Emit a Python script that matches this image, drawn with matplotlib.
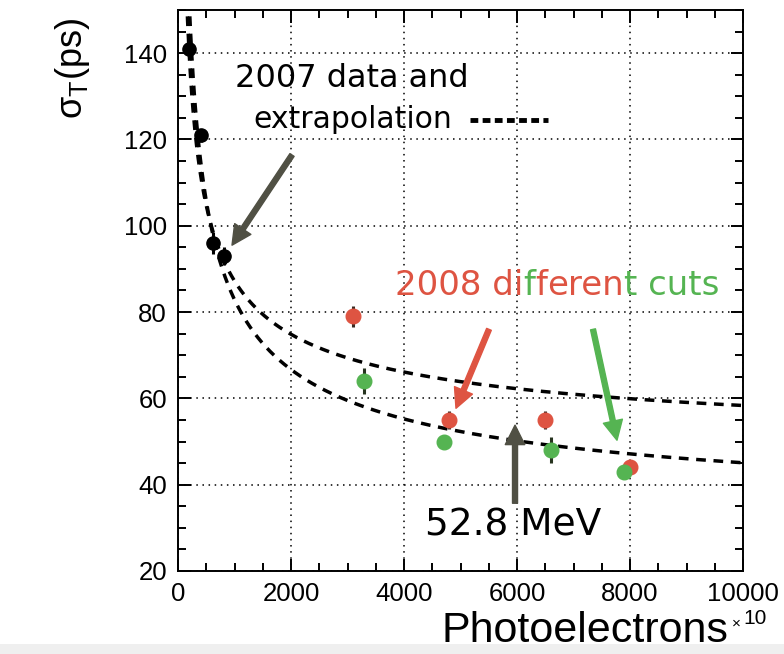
import numpy as np
import matplotlib
matplotlib.use("Agg")
import matplotlib.pyplot as plt
from matplotlib.ticker import MultipleLocator

plt.rcParams["font.family"] = ["Liberation Sans", "DejaVu Sans"]
plt.rcParams["mathtext.fontset"] = "custom"
plt.rcParams["mathtext.rm"] = "Liberation Sans"
plt.rcParams["mathtext.it"] = "Liberation Sans:italic"

# 2007 data (black)
pe_2007 = [200, 400, 620, 820]
sigma_2007 = [141, 121, 96, 93]
err_2007 = [2.0, 1.5, 2.5, 2.0]

# 2008 data, two selections
pe_2008_red = [3100, 4800, 6500, 8000]
sigma_2008_red = [79, 55, 55, 44]
err_2008_red = [2.5, 2.0, 2.0, 1.5]

pe_2008_green = [3300, 4700, 6600, 7900]
sigma_2008_green = [64, 50, 48, 43]
err_2008_green = [3.0, 1.5, 3.0, 1.5]

# extrapolation curves: sigma = a / sqrt(N) + b
fit_upper = (1335.0, 45.0)
fit_lower = (1748.0, 27.6)

x_ticks = [0, 2000, 4000, 6000, 8000, 10000]
y_ticks = [20, 40, 60, 80, 100, 120, 140]

RED = "#de5442"
GREEN = "#55b452"
ARROW_GRAY = "#505044"

fig = plt.figure(figsize=(7.84, 6.54), dpi=100)
fig.patch.set_facecolor("white")
ax = fig.add_axes([178 / 784, 1 - 571 / 654, (743 - 178) / 784, (571 - 10) / 654])

ax.set_xlim(0, 10000)
ax.set_ylim(20, 150)

# dotted grid
ax.set_xticks(x_ticks)
ax.set_yticks(y_ticks)
ax.xaxis.set_minor_locator(MultipleLocator(500))
ax.yaxis.set_minor_locator(MultipleLocator(5))
ax.grid(True, which="major", color="black", linestyle=(0, (1, 3)), linewidth=1.1)

for side in ax.spines.values():
    side.set_linewidth(1.4)
ax.tick_params(which="both", direction="in", top=True, right=True, width=1.4)
ax.tick_params(which="major", length=9, labelsize=18.5, pad=8)
ax.tick_params(which="minor", length=5.5)
ax.set_xticklabels([str(v) for v in x_ticks])
ax.set_yticklabels([str(v) for v in y_ticks])

# curves
N = np.linspace(100, 10000, 2000)
for a, b in (fit_upper, fit_lower):
    ax.plot(N, a / np.sqrt(N) + b, color="black", linestyle=(0, (2.8, 2.2)),
            linewidth=2.5, zorder=3)

# data points
ax.errorbar(pe_2007, sigma_2007, yerr=err_2007, fmt="o", color="black",
            markersize=9.5, elinewidth=2.2, capsize=0, zorder=4)
ax.errorbar(pe_2008_red, sigma_2008_red, yerr=err_2008_red, fmt="o",
            markerfacecolor=RED, markeredgecolor=RED, ecolor="#3a2a22",
            markersize=10.5, elinewidth=2.2, capsize=0, zorder=4)
ax.errorbar(pe_2008_green, sigma_2008_green, yerr=err_2008_green, fmt="o",
            markerfacecolor=GREEN, markeredgecolor=GREEN, ecolor="#26331f",
            markersize=10.5, elinewidth=2.2, capsize=0, zorder=4)

# annotations
ax.text(1009, 132.1, "2007 data and", va="baseline", ha="left", color="black",
        family="DejaVu Sans", fontsize=23)
ax.text(1327, 122.6, "extrapolation", va="baseline", ha="left", color="black",
        family="DejaVu Sans", fontsize=21.5)
ax.plot([0.517, 0.655], [0.804, 0.804], transform=ax.transAxes, color="black",
        linestyle=(0, (1.6, 0.9)), linewidth=3.5, solid_capstyle="butt")

# multi-coloured heading for 2008
head_kw = dict(family="DejaVu Sans", fontsize=24.5)
pieces = [("2008 di", RED), ("f", GREEN), ("f", RED), ("eren", RED), ("t cuts", GREEN)]
prev = ax.text(3841, 83.9, pieces[0][0], va="baseline", ha="left",
               color=pieces[0][1], **head_kw)
for s, c in pieces[1:]:
    prev = ax.annotate(s, xy=(1, 0), xycoords=prev, va="bottom", ha="left",
                       color=c, **head_kw)

ax.text(4372, 28.3, "52.8 MeV", va="baseline", ha="left", color="black",
        family="DejaVu Sans", fontsize=27)

arrow_kw = dict(width=3.6, headwidth=14, headlength=14, shrink=0)
ax.annotate("", xy=(956, 95.5), xytext=(2018, 116.4),
            arrowprops=dict(color=ARROW_GRAY, **arrow_kw))
ax.annotate("", xy=(4920, 57.7), xytext=(5504, 76.0),
            arrowprops=dict(color=RED, **arrow_kw))
ax.annotate("", xy=(7770, 50.3), xytext=(7345, 76.0),
            arrowprops=dict(color=GREEN, **arrow_kw))
ax.annotate("", xy=(5965, 53.8), xytext=(5965, 35.7),
            arrowprops=dict(color=ARROW_GRAY, **arrow_kw))

# axis titles
fig.text(73 / 784, 1 - 18 / 654, r"$\mathregular{\sigma_T}$(ps)", rotation=90,
         ha="center", va="top", fontsize=26)
fig.text(728 / 784, 1 - 642 / 654, "Photoelectrons", ha="right", va="baseline",
         fontsize=31)
fig.text(736 / 784, 1 - 628 / 654, "\u00d7", ha="center", va="baseline", fontsize=11)
fig.text(743 / 784, 1 - 624 / 654, "10", ha="left", va="baseline", fontsize=15)

# light strip along the bottom edge
fig.patches.append(plt.Rectangle((0, 0), 1, 10 / 654, transform=fig.transFigure,
                                 facecolor="#efefef", edgecolor="none", zorder=-1))

fig.savefig("out.png", dpi=100)
